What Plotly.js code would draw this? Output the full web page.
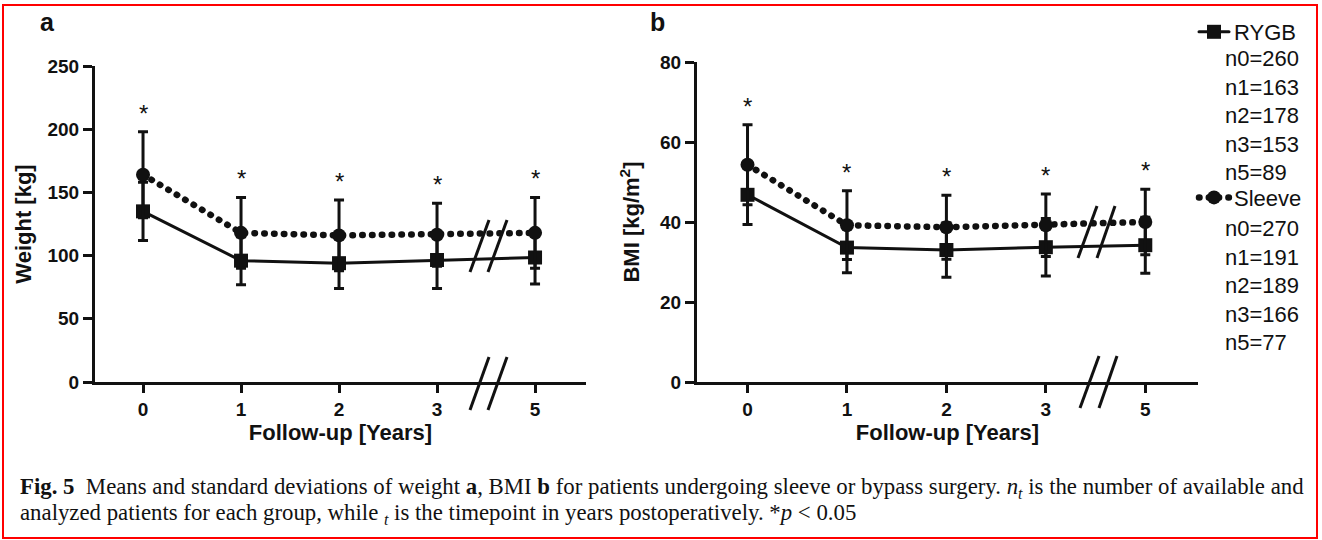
<!DOCTYPE html>
<html><head><meta charset="utf-8">
<script src="https://cdn.plot.ly/plotly-3.0.1.min.js"></script>
<style>
html,body{margin:0;padding:0;background:#fff;}
#chart{width:1322px;height:540px;}
.scatterlayer .js-line, .legend .js-line { stroke-linecap: round; }
</style></head><body><div id="chart"></div>
<script>
// ---- data ----
const years = ['0', '1', '2', '3', '5'];
const weightRYGB = [135, 96, 94, 96.5, 98.5];
const weightRYGBsd = [23, 19, 20, 22.5, 21];
const weightSleeve = [164, 118, 116, 116.5, 118];
const weightSleeveSd = [34, 28, 28, 25, 28];
const bmiRYGB = [46.8, 33.6, 33, 33.7, 34.2];
const bmiRYGBsd = [7.4, 6.3, 6.8, 7.2, 7];
const bmiSleeve = [54.3, 39.2, 38.7, 39.2, 40];
const bmiSleeveSd = [10, 8.6, 8, 7.8, 8.2];
const nRYGB = [260, 163, 178, 153, 89];
const nSleeve = [270, 191, 189, 166, 77];
const nLabels = ['n0', 'n1', 'n2', 'n3', 'n5'];
const groups = ['RYGB', 'Sleeve'];
const weightTicks = [0, 50, 100, 150, 200, 250];
const bmiTicks = [0, 20, 40, 60, 80];

// ---- layout helpers (pixel -> paper) ----
const L = 95, R = 124, T = 62, B = 158, W = 1322 - L - R, H = 540 - T - B;
const px = x => (x - L) / W;
const py = y => (540 - B - y) / H;
const INK = '#111';
const SANS = 'Liberation Sans, Arial, Helvetica, sans-serif';
const SERIF = 'Liberation Serif, Times New Roman, serif';

function rygbTrace(y, sd, xa, ya, show) {
  return {
    x: years, y: y, xaxis: xa, yaxis: ya, name: groups[0], legendgroup: 'g1', showlegend: show,
    type: 'scatter', mode: 'lines+markers',
    line: {color: INK, width: 3},
    marker: {symbol: 'square', size: 14, color: INK},
    error_y: {type: 'data', array: sd, visible: true, color: INK, thickness: 3, width: 5}
  };
}
function sleeveTrace(y, sd, xa, ya, show) {
  return {
    x: years, y: y, xaxis: xa, yaxis: ya, name: groups[1], legendgroup: 'g2', showlegend: show,
    type: 'scatter', mode: 'lines+markers',
    line: {color: INK, width: 6.5, dash: '0.5px,9.3px'},
    marker: {symbol: 'circle', size: 14, color: INK},
    error_y: {type: 'data', array: sd, visible: true, color: INK, thickness: 3, width: 5}
  };
}

const data = [
  rygbTrace(weightRYGB, weightRYGBsd, 'x', 'y', true),
  sleeveTrace(weightSleeve, weightSleeveSd, 'x', 'y', true),
  rygbTrace(bmiRYGB, bmiRYGBsd, 'x2', 'y2', false),
  sleeveTrace(bmiSleeve, bmiSleeveSd, 'x2', 'y2', false)
];

function xAxis(domain, range, anchor) {
  return {
    domain: domain, range: range, type: 'category', anchor: anchor,
    showline: true, linecolor: INK, linewidth: 3, mirror: false,
    ticks: 'outside', ticklen: 8, tickwidth: 3, tickcolor: INK,
    showgrid: false, zeroline: false,
    tickfont: {family: SANS, size: 19, color: INK, weight: 'bold'},
    title: {text: 'Follow-up [Years]', font: {family: SANS, size: 22, color: INK, weight: 'bold'}, standoff: 4}
  };
}
function yAxis(domain, range, ticks, title, anchor, standoff) {
  return {
    domain: domain, range: range, anchor: anchor, tickvals: ticks,
    showline: true, linecolor: INK, linewidth: 3,
    ticks: 'outside', ticklen: 9, tickwidth: 3, tickcolor: INK,
    showgrid: false, zeroline: false,
    tickfont: {family: SANS, size: 19, color: INK, weight: 'bold'},
    title: {text: title, font: {family: SANS, size: 22, color: INK, weight: 'bold'}, standoff: standoff}
  };
}

const annotations = [];
// panel letters
annotations.push({xref: 'paper', yref: 'paper', x: px(47), y: py(22), text: '<b>a</b>', showarrow: false,
  font: {family: SANS, size: 25, color: INK}, xanchor: 'center', yanchor: 'middle'});
annotations.push({xref: 'paper', yref: 'paper', x: px(657), y: py(22), text: '<b>b</b>', showarrow: false,
  font: {family: SANS, size: 25, color: INK}, xanchor: 'center', yanchor: 'middle'});
// significance stars above the Sleeve upper whisker (x given as category index)
function stars(mean, sd, xr, yr) {
  years.forEach((lab, i) => {
    annotations.push({xref: xr, yref: yr, x: i, y: mean[i] + sd[i], text: '*', showarrow: false,
      font: {family: SANS, size: 24, color: INK}, xanchor: 'center', yanchor: 'bottom', yshift: 3});
  });
}
stars(weightSleeve, weightSleeveSd, 'x', 'y');
stars(bmiSleeve, bmiSleeveSd, 'x2', 'y2');
// n lines in the legend area
function nBlock(ns, yc) {
  annotations.push({xref: 'paper', yref: 'paper', x: px(1223), y: py(yc), xanchor: 'left', yanchor: 'middle',
    align: 'left', showarrow: false,
    text: ns.map((n, i) => nLabels[i] + '=' + n).join('<br>'),
    font: {family: SANS, size: 22, color: INK}});
}
nBlock(nRYGB, 115);
nBlock(nSleeve, 285.5);
// caption
annotations.push({xref: 'paper', yref: 'paper', x: px(18), y: py(488), xanchor: 'left', yanchor: 'middle',
  showarrow: false, align: 'left',
  text: '<b>Fig. 5</b>  Means and standard deviations of weight <b>a</b>, BMI <b>b</b> for patients undergoing sleeve or bypass surgery. <i>n</i><sub><i>t</i></sub> is the number of available and',
  font: {family: SERIF, size: 22.8, color: INK}});
annotations.push({xref: 'paper', yref: 'paper', x: px(18), y: py(514), xanchor: 'left', yanchor: 'middle',
  showarrow: false, align: 'left',
  text: 'analyzed patients for each group, while <sub><i>t</i></sub> is the timepoint in years postoperatively. *<i>p</i> &lt; 0.05',
  font: {family: SERIF, size: 22.8, color: INK}});

// axis-break marks and frame
const shapes = [];
function brk(x0, y0, x1, y1) {
  shapes.push({type: 'line', xref: 'paper', yref: 'paper', x0: px(x0), y0: py(y0), x1: px(x1), y1: py(y1),
    line: {color: INK, width: 3}});
}
brk(470, 272, 489, 220); brk(488, 272, 507, 220);
brk(470, 410, 489, 357); brk(488, 410, 507, 357);
brk(1078, 258, 1097, 206); brk(1097, 258, 1115, 206);
brk(1080, 408, 1099, 356); brk(1099, 408, 1117, 356);
shapes.push({type: 'rect', xref: 'paper', yref: 'paper', x0: px(3), y0: py(538), x1: px(1317), y1: py(5),
  line: {color: '#ff0000', width: 2}, fillcolor: 'rgba(0,0,0,0)'});

const layout = {
  width: 1322, height: 540,
  margin: {l: L, r: R, t: T, b: B, autoexpand: false},
  paper_bgcolor: '#fff', plot_bgcolor: '#fff',
  font: {family: SANS, color: INK},
  showlegend: true,
  legend: {x: px(1194), y: py(11), xanchor: 'left', yanchor: 'top', traceorder: 'grouped',
    tracegroupgap: 134, bgcolor: 'rgba(0,0,0,0)', font: {family: SANS, size: 22, color: INK}},
  xaxis: xAxis([0, px(586)], [-0.49, 4.52], 'y'),
  yaxis: yAxis([0, py(66)], [0, 250], weightTicks, 'Weight [kg]', 'x', 10),
  xaxis2: xAxis([px(697), 1], [-0.508, 4.53], 'y2'),
  yaxis2: yAxis([0, py(62)], [0, 80], bmiTicks, 'BMI [kg/m<sup>2</sup>]', 'x2', 15),
  annotations: annotations,
  shapes: shapes
};

Plotly.newPlot('chart', data, layout, {staticPlot: true, displayModeBar: false});
</script></body></html>
